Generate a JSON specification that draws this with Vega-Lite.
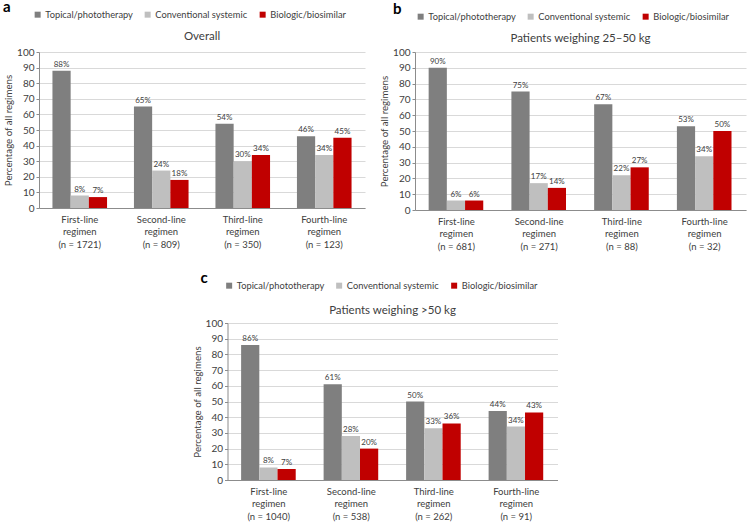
{
  "$schema": "https://vega.github.io/schema/vega-lite/v6.json",
  "padding": {"left": 3, "top": 10, "right": 1, "bottom": 2},
  "datasets": {
    "rows": [
      {"panel": "a", "regimen": "First-line regimen (n = 1721)", "therapy": "Topical/phototherapy", "value": 88},
      {"panel": "a", "regimen": "First-line regimen (n = 1721)", "therapy": "Conventional systemic", "value": 8},
      {"panel": "a", "regimen": "First-line regimen (n = 1721)", "therapy": "Biologic/biosimilar", "value": 7},
      {"panel": "a", "regimen": "Second-line regimen (n = 809)", "therapy": "Topical/phototherapy", "value": 65},
      {"panel": "a", "regimen": "Second-line regimen (n = 809)", "therapy": "Conventional systemic", "value": 24},
      {"panel": "a", "regimen": "Second-line regimen (n = 809)", "therapy": "Biologic/biosimilar", "value": 18},
      {"panel": "a", "regimen": "Third-line regimen (n = 350)", "therapy": "Topical/phototherapy", "value": 54},
      {"panel": "a", "regimen": "Third-line regimen (n = 350)", "therapy": "Conventional systemic", "value": 30},
      {"panel": "a", "regimen": "Third-line regimen (n = 350)", "therapy": "Biologic/biosimilar", "value": 34},
      {"panel": "a", "regimen": "Fourth-line regimen (n = 123)", "therapy": "Topical/phototherapy", "value": 46},
      {"panel": "a", "regimen": "Fourth-line regimen (n = 123)", "therapy": "Conventional systemic", "value": 34},
      {"panel": "a", "regimen": "Fourth-line regimen (n = 123)", "therapy": "Biologic/biosimilar", "value": 45},
      {"panel": "b", "regimen": "First-line regimen (n = 681)", "therapy": "Topical/phototherapy", "value": 90},
      {"panel": "b", "regimen": "First-line regimen (n = 681)", "therapy": "Conventional systemic", "value": 6},
      {"panel": "b", "regimen": "First-line regimen (n = 681)", "therapy": "Biologic/biosimilar", "value": 6},
      {"panel": "b", "regimen": "Second-line regimen (n = 271)", "therapy": "Topical/phototherapy", "value": 75},
      {"panel": "b", "regimen": "Second-line regimen (n = 271)", "therapy": "Conventional systemic", "value": 17},
      {"panel": "b", "regimen": "Second-line regimen (n = 271)", "therapy": "Biologic/biosimilar", "value": 14},
      {"panel": "b", "regimen": "Third-line regimen (n = 88)", "therapy": "Topical/phototherapy", "value": 67},
      {"panel": "b", "regimen": "Third-line regimen (n = 88)", "therapy": "Conventional systemic", "value": 22},
      {"panel": "b", "regimen": "Third-line regimen (n = 88)", "therapy": "Biologic/biosimilar", "value": 27},
      {"panel": "b", "regimen": "Fourth-line regimen (n = 32)", "therapy": "Topical/phototherapy", "value": 53},
      {"panel": "b", "regimen": "Fourth-line regimen (n = 32)", "therapy": "Conventional systemic", "value": 34},
      {"panel": "b", "regimen": "Fourth-line regimen (n = 32)", "therapy": "Biologic/biosimilar", "value": 50},
      {"panel": "c", "regimen": "First-line regimen (n = 1040)", "therapy": "Topical/phototherapy", "value": 86},
      {"panel": "c", "regimen": "First-line regimen (n = 1040)", "therapy": "Conventional systemic", "value": 8},
      {"panel": "c", "regimen": "First-line regimen (n = 1040)", "therapy": "Biologic/biosimilar", "value": 7},
      {"panel": "c", "regimen": "Second-line regimen (n = 538)", "therapy": "Topical/phototherapy", "value": 61},
      {"panel": "c", "regimen": "Second-line regimen (n = 538)", "therapy": "Conventional systemic", "value": 28},
      {"panel": "c", "regimen": "Second-line regimen (n = 538)", "therapy": "Biologic/biosimilar", "value": 20},
      {"panel": "c", "regimen": "Third-line regimen (n = 262)", "therapy": "Topical/phototherapy", "value": 50},
      {"panel": "c", "regimen": "Third-line regimen (n = 262)", "therapy": "Conventional systemic", "value": 33},
      {"panel": "c", "regimen": "Third-line regimen (n = 262)", "therapy": "Biologic/biosimilar", "value": 36},
      {"panel": "c", "regimen": "Fourth-line regimen (n = 91)", "therapy": "Topical/phototherapy", "value": 44},
      {"panel": "c", "regimen": "Fourth-line regimen (n = 91)", "therapy": "Conventional systemic", "value": 34},
      {"panel": "c", "regimen": "Fourth-line regimen (n = 91)", "therapy": "Biologic/biosimilar", "value": 43}
    ]
  },
  "data": {"name": "rows"},
  "center": true,
  "spacing": 30,
  "resolve": {"scale": {"color": "independent"}, "legend": {"color": "independent"}},
  "vconcat": [
    {
      "hconcat": [
        {
          "width": 326, "height": 156,
          "title": {"text": "Overall", "offset": -32},
          "transform": [{"filter": "datum.panel == 'a'"}],
          "encoding": {
            "x": {"field": "regimen", "type": "nominal", "sort": null, "scale": {"paddingInner": 0.33, "paddingOuter": 0.165},
                  "axis": {"title": null, "labelAngle": 0, "ticks": false, "grid": false, "labelFontSize": 9.5, "labelLineHeight": 12.5, "labelPadding": 6,
                           "labelExpr": "[split(datum.label, ' ')[0], split(datum.label, ' ')[1], slice(datum.label, indexof(datum.label, '('))]"}},
            "xOffset": {"field": "therapy", "type": "nominal", "scale": {"domain": ["Topical/phototherapy", "Conventional systemic", "Biologic/biosimilar"], "paddingInner": 0, "paddingOuter": 0}},
            "y": {"field": "value", "type": "quantitative", "scale": {"domain": [0, 100]},
                  "axis": {"title": "Percentage of all regimens", "values": [0,10,20,30,40,50,60,70,80,90,100], "grid": true}}
          },
          "layer": [
            {"mark": {"type": "bar"},
             "encoding": {"color": {"field": "therapy", "type": "nominal",
               "scale": {"domain": ["Topical/phototherapy", "Conventional systemic", "Biologic/biosimilar"], "range": ["#7f7f7f", "#bfbfbf", "#c00000"]},
               "legend": {"title": "a", "orient": "none", "legendX": -36, "legendY": -42, "direction": "horizontal", "columns": 3, "titleOrient": "left", "titleBaseline": "bottom", "titlePadding": 22, "columnPadding": 10}}}},
            {"mark": {"type": "text", "dy": -6, "fontSize": 8, "color": "#404040", "text": {"expr": "datum.value + '%'"}}}
          ]
        },
        {
          "width": 331, "height": 158,
          "title": {"text": "Patients weighing 25–50 kg", "offset": -32},
          "transform": [{"filter": "datum.panel == 'b'"}],
          "encoding": {
            "x": {"field": "regimen", "type": "nominal", "sort": null, "scale": {"paddingInner": 0.33, "paddingOuter": 0.165},
                  "axis": {"title": null, "labelAngle": 0, "ticks": false, "grid": false, "labelFontSize": 9.5, "labelLineHeight": 12.5, "labelPadding": 6,
                           "labelExpr": "[split(datum.label, ' ')[0], split(datum.label, ' ')[1], slice(datum.label, indexof(datum.label, '('))]"}},
            "xOffset": {"field": "therapy", "type": "nominal", "scale": {"domain": ["Topical/phototherapy", "Conventional systemic", "Biologic/biosimilar"], "paddingInner": 0, "paddingOuter": 0}},
            "y": {"field": "value", "type": "quantitative", "scale": {"domain": [0, 100]},
                  "axis": {"title": "Percentage of all regimens", "values": [0,10,20,30,40,50,60,70,80,90,100], "grid": true}}
          },
          "layer": [
            {"mark": {"type": "bar"},
             "encoding": {"color": {"field": "therapy", "type": "nominal",
               "scale": {"domain": ["Topical/phototherapy", "Conventional systemic", "Biologic/biosimilar"], "range": ["#7f7f7f", "#bfbfbf", "#c00000"]},
               "legend": {"title": "b", "orient": "none", "legendX": -22, "legendY": -40, "direction": "horizontal", "columns": 3, "titleOrient": "left", "titleBaseline": "bottom", "titlePadding": 14, "columnPadding": 10}}}},
            {"mark": {"type": "text", "dy": -6, "fontSize": 8, "color": "#404040", "text": {"expr": "datum.value + '%'"}}}
          ]
        }
      ],
      "spacing": 14,
      "resolve": {"scale": {"color": "independent"}, "legend": {"color": "independent"}}
    },
    {
      "width": 330, "height": 157,
      "title": {"text": "Patients weighing >50 kg", "offset": -35},
      "transform": [{"filter": "datum.panel == 'c'"}],
      "encoding": {
        "x": {"field": "regimen", "type": "nominal", "sort": null, "scale": {"paddingInner": 0.33, "paddingOuter": 0.165},
              "axis": {"title": null, "labelAngle": 0, "ticks": false, "grid": false, "labelFontSize": 9.5, "labelLineHeight": 12.5, "labelPadding": 6,
                       "labelExpr": "[split(datum.label, ' ')[0], split(datum.label, ' ')[1], slice(datum.label, indexof(datum.label, '('))]"}},
        "xOffset": {"field": "therapy", "type": "nominal", "scale": {"domain": ["Topical/phototherapy", "Conventional systemic", "Biologic/biosimilar"], "paddingInner": 0, "paddingOuter": 0}},
        "y": {"field": "value", "type": "quantitative", "scale": {"domain": [0, 100]},
              "axis": {"title": "Percentage of all regimens", "values": [0,10,20,30,40,50,60,70,80,90,100], "grid": true}}
      },
      "layer": [
        {"mark": {"type": "bar"},
         "encoding": {"color": {"field": "therapy", "type": "nominal",
           "scale": {"domain": ["Topical/phototherapy", "Conventional systemic", "Biologic/biosimilar"], "range": ["#7f7f7f", "#bfbfbf", "#c00000"]},
           "legend": {"title": "c", "orient": "none", "legendX": -27, "legendY": -42, "direction": "horizontal", "columns": 3, "titleOrient": "left", "titleBaseline": "bottom", "titlePadding": 16, "columnPadding": 10}}}},
        {"mark": {"type": "text", "dy": -6, "fontSize": 8, "color": "#404040", "text": {"expr": "datum.value + '%'"}}}
      ]
    }
  ],
  "config": {
    "font": "Lato",
    "view": {"stroke": null},
    "axis": {"labelColor": "#404040", "titleColor": "#404040", "domainColor": "#8c8c8c", "tickColor": "#8c8c8c", "gridColor": "#d9d9d9", "labelFontSize": 10, "titleFontSize": 9.7, "titleFontWeight": "normal", "tickSize": 3, "labelPadding": 2, "titlePadding": 3},
    "title": {"fontSize": 11.5, "fontWeight": "normal", "color": "#404040", "anchor": "middle"},
    "legend": {"titleFontSize": 15, "titleFontWeight": "bold", "titleColor": "#000000", "symbolType": "square", "symbolSize": 36, "symbolStrokeWidth": 0, "labelFontSize": 9.3, "labelColor": "#404040", "labelOffset": 3}
  }
}
